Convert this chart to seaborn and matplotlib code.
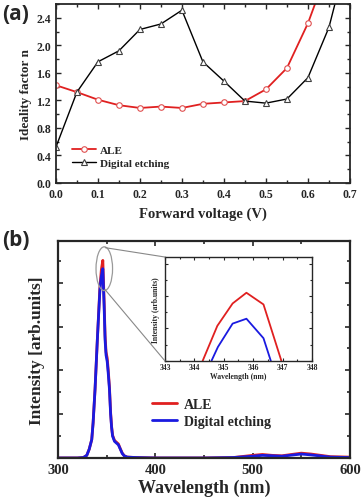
import numpy as np
import matplotlib
matplotlib.use("Agg")
import matplotlib.pyplot as plt
from matplotlib.patches import Ellipse, ConnectionPatch
from matplotlib.ticker import MultipleLocator, NullFormatter
import seaborn as sns

# ── Data: (a) ideality factor vs forward voltage ─────────────────────────────
v_ale = [0.00, 0.05, 0.10, 0.15, 0.20, 0.25, 0.30, 0.35, 0.40, 0.45, 0.50, 0.55, 0.60, 0.65]
n_ale = [1.42, 1.32, 1.21, 1.13, 1.09, 1.11, 1.09, 1.15, 1.17, 1.19, 1.36, 1.67, 2.32, 3.15]
v_dig = [0.00, 0.05, 0.10, 0.15, 0.20, 0.25, 0.30, 0.35, 0.40, 0.45, 0.50, 0.55, 0.60, 0.65, 0.70]
n_dig = [0.52, 1.32, 1.76, 1.92, 2.23, 2.31, 2.51, 1.76, 1.48, 1.19, 1.16, 1.22, 1.53, 2.26, 3.45]

# ── Data: (b) PL spectra ─────────────────────────────────────────────────────
wl = [300, 320, 326, 329.5, 332, 334.6, 336, 338, 340.4, 343, 344.5, 346, 347.3, 348.3, 349.3,
      350.5, 351.5, 352.8, 354, 355, 356, 358, 360, 362, 364, 366, 368, 371, 380, 400,
      450, 480, 500, 510, 520, 530, 550, 560, 580, 600]
pl_ale = [0.0, 0.0, 0.01, 0.06, 0.20, 0.42, 0.80, 1.57, 2.72, 3.90, 4.30, 4.51, 3.60, 2.80, 2.42,
          2.28, 2.02, 1.62, 1.04, 0.72, 0.52, 0.40, 0.36, 0.32, 0.21, 0.11, 0.05, 0.02, 0.01, 0.0,
          0.0, 0.01, 0.06, 0.08, 0.06, 0.05, 0.11, 0.09, 0.03, 0.02]
pl_dig = [0.0, 0.0, 0.01, 0.06, 0.20, 0.42, 0.80, 1.57, 2.72, 3.84, 4.15, 4.32, 3.48, 2.70, 2.35,
          2.20, 1.95, 1.57, 1.00, 0.70, 0.50, 0.38, 0.34, 0.30, 0.20, 0.10, 0.05, 0.02, 0.01, 0.0,
          0.0, 0.01, 0.04, 0.06, 0.05, 0.04, 0.09, 0.07, 0.02, 0.01]

# inset zoom of the peak
wl_in_ale = [344.28, 344.78, 345.30, 345.77, 346.35, 346.96]
in_ale = [0.0, 1.08, 1.77, 2.10, 1.74, 0.0]
wl_in_dig = [344.58, 344.80, 345.30, 345.77, 346.35, 346.60]
in_dig = [0.0, 0.43, 1.15, 1.30, 0.70, 0.0]

sns.set_theme(style="ticks")
plt.rcParams["font.family"] = ["Liberation Serif", "DejaVu Serif"]
plt.rcParams["font.weight"] = "bold"
plt.rcParams["axes.labelweight"] = "bold"
plt.rcParams["xtick.direction"] = "in"
plt.rcParams["ytick.direction"] = "in"

fig = plt.figure(figsize=(3.63, 5.02), dpi=100)

# ── Panel (a) ────────────────────────────────────────────────────────────────
ax1 = fig.add_axes([0.154, 0.6335, 0.810, 0.3565])
sns.lineplot(x=v_ale, y=n_ale, ax=ax1, color="#e02020", lw=1.3, marker="o",
             markersize=4, markerfacecolor="white", markeredgecolor="#e05050",
             markeredgewidth=0.8, label="ALE")
sns.lineplot(x=v_dig, y=n_dig, ax=ax1, color="black", lw=1.0, marker="^",
             markersize=4.5, markerfacecolor="white", markeredgecolor="#404040",
             markeredgewidth=0.8, label="Digital etching")
ax1.set_xlim(0, 0.7)
ax1.set_ylim(0, 2.6)
ax1.xaxis.set_major_locator(MultipleLocator(0.1))
ax1.xaxis.set_minor_locator(MultipleLocator(0.05))
ax1.yaxis.set_major_locator(MultipleLocator(0.4))
ax1.yaxis.set_minor_locator(MultipleLocator(0.2))
ax1.xaxis.set_major_formatter(plt.FuncFormatter(lambda v, p: f"{v:.1f}"))
ax1.yaxis.set_major_formatter(plt.FuncFormatter(lambda v, p: f"{v:.1f}"))
ax1.tick_params(which="both", top=True, right=True, labelsize=8.5, width=1.0)
ax1.tick_params(which="major", length=3.5)
ax1.tick_params(which="minor", length=2)
for s in ax1.spines.values():
    s.set_linewidth(1.3)
ax1.set_xlabel("Forward voltage (V)", fontsize=10.5, labelpad=5)
ax1.set_ylabel("Ideality factor n", fontsize=9.5, labelpad=3)
leg = ax1.legend(loc="lower left", bbox_to_anchor=(0.02, 0.03), frameon=False,
                 fontsize=8, handlelength=2.2, handletextpad=0.3, labelspacing=0.3)
fig.text(0.005, 0.992, "(a)", fontsize=15, fontweight="bold", va="top",
         family=["Open Sans", "DejaVu Sans"])

# ── Panel (b) ────────────────────────────────────────────────────────────────
ax2 = fig.add_axes([0.160, 0.0857, 0.804, 0.432])
sns.lineplot(x=wl, y=pl_ale, ax=ax2, color="#e02020", lw=2.0, label="ALE")
sns.lineplot(x=wl, y=pl_dig, ax=ax2, color="#1a1ae0", lw=2.0, label="Digital etching")
ax2.set_xlim(300, 600)
ax2.set_ylim(0, 4.95)
ax2.xaxis.set_major_locator(MultipleLocator(100))
ax2.xaxis.set_minor_locator(MultipleLocator(50))
ax2.yaxis.set_major_locator(MultipleLocator(1))
ax2.yaxis.set_minor_locator(MultipleLocator(0.5))
ax2.yaxis.set_major_formatter(NullFormatter())
ax2.tick_params(which="both", top=True, right=True, labelsize=10.5, width=1.2)
ax2.tick_params(which="major", length=3.5)
ax2.tick_params(which="minor", length=2)
for s in ax2.spines.values():
    s.set_linewidth(1.6)
ax2.set_xlabel("Wavelength (nm)", fontsize=13, labelpad=2)
ax2.set_ylabel("Intensity [arb.units]", fontsize=12.5, labelpad=6)
ax2.legend(loc="lower left", bbox_to_anchor=(0.28, 0.08), frameon=False,
           fontsize=10, handlelength=1.8, handletextpad=0.5, labelspacing=0.3)
fig.text(0.005, 0.542, "(b)", fontsize=15, fontweight="bold", va="top",
         family=["Open Sans", "DejaVu Sans"])

ell = Ellipse((347.5, 4.32), 17, 1.0, fill=False, edgecolor="#999999", lw=0.9, zorder=5)
ax2.add_patch(ell)

# ── Inset ────────────────────────────────────────────────────────────────────
axin = fig.add_axes([0.4545, 0.279, 0.405, 0.207])
sns.lineplot(x=wl_in_ale, y=in_ale, ax=axin, color="#e02020", lw=1.3)
sns.lineplot(x=wl_in_dig, y=in_dig, ax=axin, color="#1a1ae0", lw=1.3)
axin.set_xlim(343, 348)
axin.set_ylim(0, 3.2)
axin.xaxis.set_major_locator(MultipleLocator(1))
axin.xaxis.set_minor_locator(MultipleLocator(0.5))
axin.yaxis.set_major_locator(MultipleLocator(1))
axin.yaxis.set_minor_locator(MultipleLocator(0.5))
axin.yaxis.set_major_formatter(NullFormatter())
axin.tick_params(which="both", top=True, right=True, labelsize=5.5, width=0.8, pad=1.5)
axin.tick_params(which="major", length=2.5)
axin.tick_params(which="minor", length=1.5)
for s in axin.spines.values():
    s.set_linewidth(1.0)
axin.set_xlabel("Wavelength (nm)", fontsize=5.5, labelpad=1)
axin.set_ylabel("Intensity (arb.units)", fontsize=5.5, labelpad=2)

for xa, ya, yb in [(348.5, 4.8, 1.0), (348.0, 3.85, 0.0)]:
    con = ConnectionPatch(xyA=(xa, ya), coordsA=ax2.transData,
                          xyB=(0.0, yb), coordsB=axin.transAxes,
                          color="#888888", lw=0.8)
    fig.add_artist(con)

fig.savefig("out.png", dpi=100)
